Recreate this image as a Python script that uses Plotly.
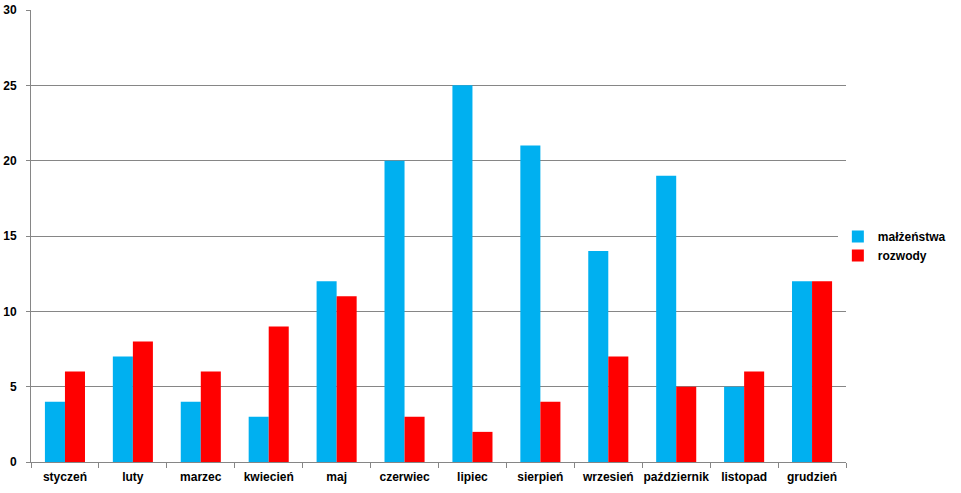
import plotly.graph_objects as go

months = ["styczeń", "luty", "marzec", "kwiecień", "maj", "czerwiec", "lipiec",
          "sierpień", "wrzesień", "październik", "listopad", "grudzień"]
malzenstwa = [4, 7, 4, 3, 12, 20, 25, 21, 14, 19, 5, 12]
rozwody = [6, 8, 6, 9, 11, 3, 2, 4, 7, 5, 6, 12]

font = dict(family="Liberation Sans", size=12, color="black", weight="bold")

fig = go.Figure()
fig.add_trace(go.Bar(x=months, y=malzenstwa, name="małżeństwa",
                     marker=dict(color="#00B0F0", line=dict(width=0))))
fig.add_trace(go.Bar(x=months, y=rozwody, name="rozwody",
                     marker=dict(color="#FF0000", line=dict(width=0))))

fig.update_layout(
    width=961, height=493,
    margin=dict(l=31, r=113, t=10, b=31),
    paper_bgcolor="white", plot_bgcolor="white",
    barmode="group", bargap=0.41, bargroupgap=0,
    font=font,
    legend=dict(x=0.99, y=0.478, xanchor="left", yanchor="middle",
                font=font, traceorder="grouped", tracegroupgap=9, itemwidth=30),
    showlegend=True,
)
fig.update_xaxes(type="category", tickson="boundaries", ticks="outside", ticklen=5,
                 tickcolor="#868686", showline=True, linecolor="#868686", linewidth=1,
                 showgrid=False, tickfont=font, tickangle=0, automargin=False,
                 ticklabelstandoff=4)
fig.update_yaxes(range=[0, 30], dtick=5, ticks="outside", ticklen=4, tickcolor="#868686",
                 showline=True, linecolor="#868686", linewidth=1,
                 showgrid=True, gridcolor="#868686", gridwidth=1, zeroline=False,
                 tickfont=font, automargin=False, ticklabelstandoff=7)

fig.write_html("out.html", config={"displayModeBar": False},
               post_script="document.body.style.margin='0';")
